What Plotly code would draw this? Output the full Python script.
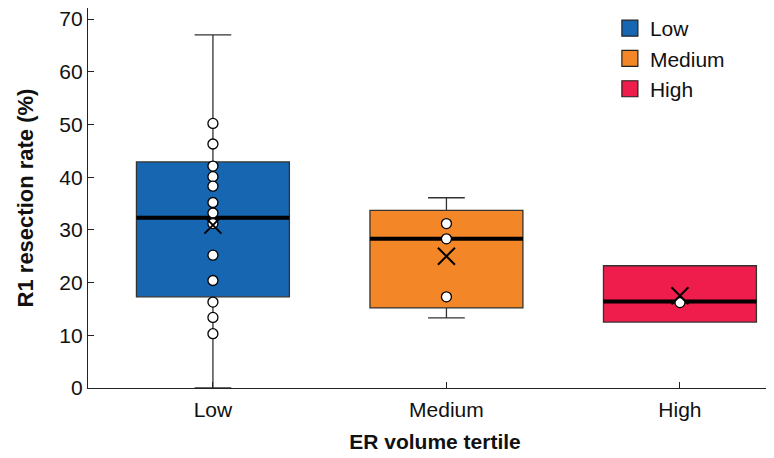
import plotly.graph_objects as go

categories = ["Low", "Medium", "High"]
colors = ["#1666B1", "#F38626", "#EF1D4B"]

q1 = [17.3, 15.2, 12.5]
median = [32.3, 28.3, 16.4]
q3 = [42.9, 33.7, 23.2]
lower_fence = [0.0, 13.3, 12.5]
upper_fence = [67.0, 36.1, 23.2]
means = [30.9, 25.0, 17.5]

points_low = [50.2, 46.3, 42.1, 40.1, 38.3, 35.2, 33.2, 31.2, 25.2, 20.4, 16.3, 13.4, 10.3]
points_medium = [31.2, 28.3, 17.3]
points_high = [16.2]
points = [points_low, points_medium, points_high]

BOX_W = 0.655
FONT = "Liberation Sans, Arial, sans-serif"

fig = go.Figure()

for i, cat in enumerate(categories):
    fig.add_trace(go.Box(
        x=[i], q1=[q1[i]], median=[median[i]], q3=[q3[i]],
        lowerfence=[lower_fence[i]], upperfence=[upper_fence[i]],
        width=BOX_W, whiskerwidth=0.24,
        fillcolor=colors[i], line=dict(color="#333333", width=1.3),
        boxpoints=False, showlegend=False, hoverinfo="skip",
    ))

for i, cat in enumerate(categories):
    fig.add_trace(go.Scatter(
        x=[i - BOX_W / 2, i + BOX_W / 2], y=[median[i], median[i]],
        mode="lines", line=dict(color="black", width=4),
        showlegend=False, hoverinfo="skip",
    ))

for i, cat in enumerate(categories):
    fig.add_trace(go.Scatter(
        x=[i] * len(points[i]), y=points[i], mode="markers",
        marker=dict(color="white", size=10, line=dict(color="black", width=1.3)),
        showlegend=False, hoverinfo="skip",
    ))

fig.add_trace(go.Scatter(
    x=list(range(len(categories))), y=means, mode="markers",
    marker=dict(symbol="x-thin", size=17, line=dict(color="black", width=2)),
    showlegend=False, hoverinfo="skip",
))

for i, cat in enumerate(categories):
    fig.add_trace(go.Scatter(
        x=[None], y=[None], mode="markers", name=cat,
        marker=dict(symbol="square", size=25, color=colors[i],
                    line=dict(color="#222222", width=1.2)),
    ))

fig.update_layout(
    width=774, height=458,
    margin=dict(l=80, r=0, t=0, b=78),
    paper_bgcolor="white", plot_bgcolor="white",
    font=dict(family=FONT, size=21, color="#111111"),
    legend=dict(x=0.752, y=1.0, xanchor="left", yanchor="top",
                bgcolor="rgba(0,0,0,0)", font=dict(size=21),
                itemwidth=30),
    xaxis=dict(
        range=[-0.535, 2.437], tickvals=[0, 1, 2], ticktext=categories,
        showline=True, linecolor="#222222", linewidth=1.3,
        ticks="inside", ticklen=6, tickcolor="#222222",
        showgrid=False, zeroline=False, automargin=False,
        ticklabelstandoff=3,
        title=dict(text="<b>ER volume tertile</b>", font=dict(size=21), standoff=13),
    ),
    yaxis=dict(
        range=[0, 72.1], tickvals=[0, 10, 20, 30, 40, 50, 60, 70],
        showline=True, linecolor="#222222", linewidth=1.3,
        ticks="inside", ticklen=6, tickcolor="#222222",
        showgrid=False, zeroline=False, automargin=False,
        ticklabeloverflow="allow",
        title=dict(text="<b>R1 resection rate (%)</b>", font=dict(size=22), standoff=19),
    ),
)

fig.write_html("out.html")
